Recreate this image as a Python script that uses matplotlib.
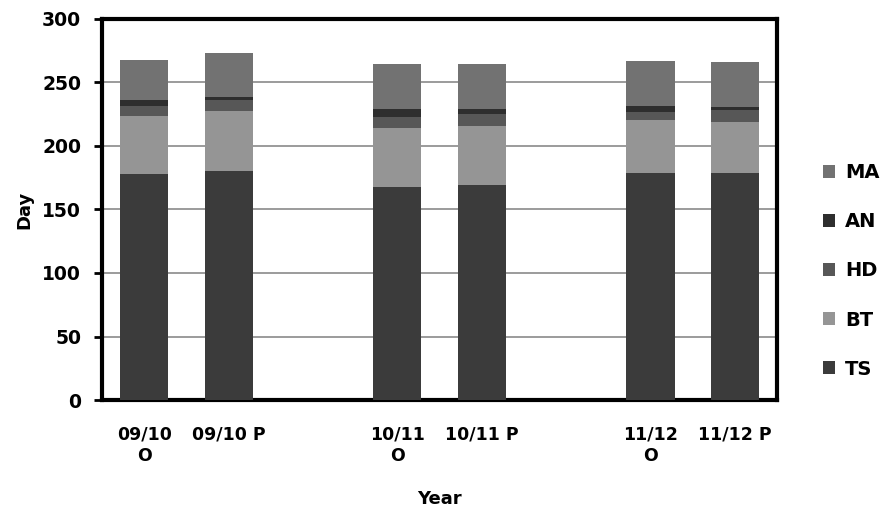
import numpy as np
import matplotlib
matplotlib.use("Agg")
import matplotlib.pyplot as plt
from matplotlib.patches import Patch

# Growth-stage durations (days), stacked from bottom to top
categories = ["09/10\nO", "09/10 P", "", "10/11\nO", "10/11 P", "", "11/12\nO", "11/12 P"]
ts = [178, 180, 0, 167.5, 169, 0, 179, 179]
bt = [45.6, 47.5, 0, 47, 46.5, 0, 41.5, 40]
hd = [8, 8.5, 0, 8.7, 9.7, 0, 6.3, 9]
an = [4.5, 2.5, 0, 6, 4, 0, 4.7, 3]
ma = [31.7, 35, 0, 35.6, 35, 0, 35.4, 35]

series = [("TS", ts, "#3b3b3b"),
          ("BT", bt, "#959595"),
          ("HD", hd, "#575757"),
          ("AN", an, "#2e2e2e"),
          ("MA", ma, "#727272")]

plt.rcParams["font.family"] = ["DejaVu Sans"]
plt.rcParams["font.weight"] = "bold"

fig = plt.figure(figsize=(8.83, 5.16), dpi=100)
ax = fig.add_axes([0.1155, 0.2248, 0.7645, 0.7384])

x = np.arange(len(categories))
bottom = np.zeros(len(categories))
mask = np.array([c != "" for c in categories])
for name, vals, color in series:
    v = np.array(vals, dtype=float)
    ax.bar(x[mask], v[mask], width=0.57, bottom=bottom[mask], color=color,
           edgecolor="none", zorder=3)
    bottom += v

ax.set_xlim(-0.5, len(categories) - 0.5)
ax.set_ylim(0, 300)
ax.set_yticks(np.arange(0, 301, 50))
ax.yaxis.grid(True, color="#808080", linewidth=1.1, zorder=0)
ax.set_axisbelow(True)

ax.set_xticks(x[mask])
ax.set_xticklabels([c for c in categories if c != ""], fontsize=12.5,
                   fontweight="bold", linespacing=1.3, va="top")
ax.tick_params(axis="x", length=0, pad=18)
ax.tick_params(axis="y", direction="out", length=6, width=2, labelsize=13.5, pad=9)
for lbl in ax.get_yticklabels():
    lbl.set_fontweight("bold")

for s in ax.spines.values():
    s.set_linewidth(3)
    s.set_color("black")

ax.set_ylabel("Day", fontsize=13, fontweight="bold", labelpad=6)
ax.set_xlabel("Year", fontsize=13, fontweight="bold", labelpad=18)

handles = [Patch(facecolor=c, edgecolor="none", label=n) for n, _, c in reversed(series)]
fig.legend(handles=handles, loc="center left", bbox_to_anchor=(0.912, 0.475),
           frameon=False, handlelength=0.65, handleheight=0.65, handletextpad=0.5,
           labelspacing=1.55, prop={"size": 14, "weight": "bold"})

fig.savefig("out.png", dpi=100)
